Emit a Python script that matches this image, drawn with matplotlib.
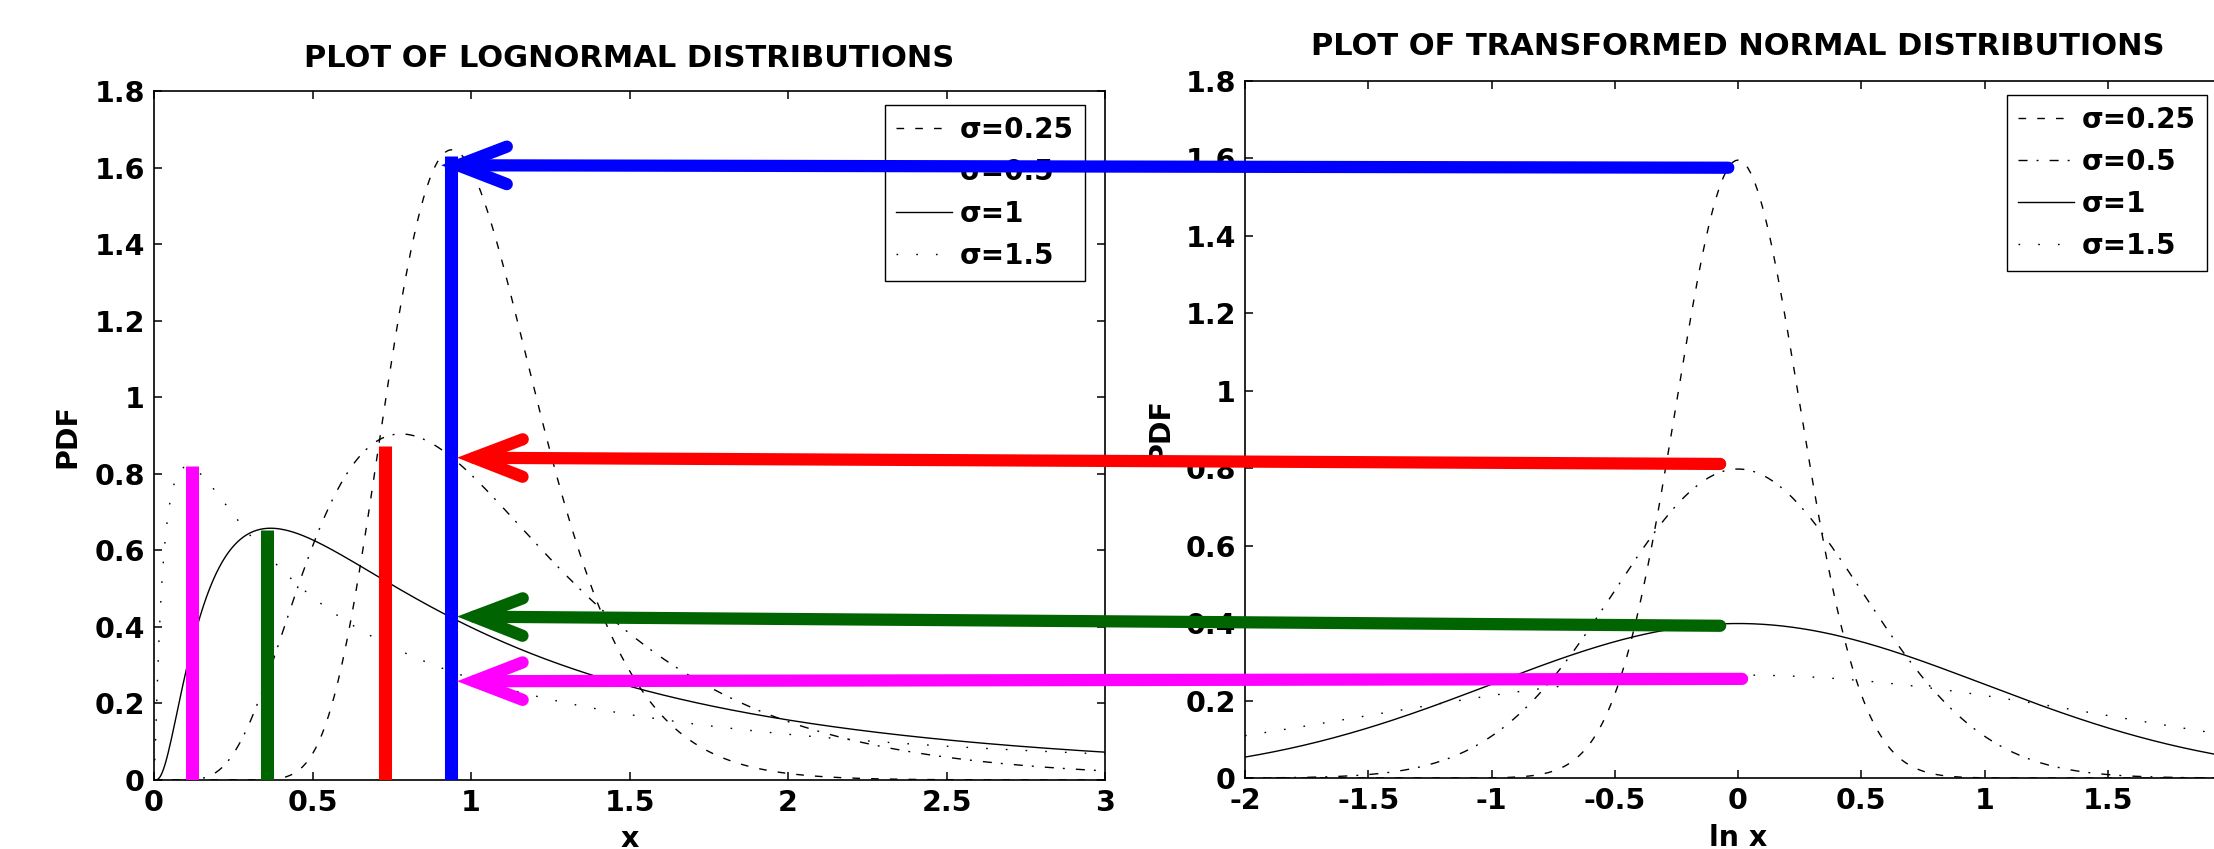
import numpy as np
import matplotlib
matplotlib.use("Agg")
import matplotlib.pyplot as plt
from matplotlib.patches import ConnectionPatch, ArrowStyle

# ---------------- data ----------------
sigmas = [0.25, 0.5, 1.0, 1.5]
legend_labels = ["σ=0.25", "σ=0.5", "σ=1", "σ=1.5"]

left_title = "PLOT OF LOGNORMAL DISTRIBUTIONS"
right_title = "PLOT OF TRANSFORMED NORMAL DISTRIBUTIONS"

left_xticks = [0, 0.5, 1, 1.5, 2, 2.5, 3]
left_xticklabels = ["0", "0.5", "1", "1.5", "2", "2.5", "3"]
right_xticks = [-2, -1.5, -1, -0.5, 0, 0.5, 1, 1.5, 2]
right_xticklabels = ["-2", "-1.5", "-1", "-0.5", "0", "0.5", "1", "1.5", ""]
yticks = [0, 0.2, 0.4, 0.6, 0.8, 1.0, 1.2, 1.4, 1.6, 1.8]
yticklabels = ["0", "0.2", "0.4", "0.6", "0.8", "1", "1.2", "1.4", "1.6", "1.8"]

# vertical marker bars in the left panel (x position, height)
bar_x = [0.12, 0.355, 0.73, 0.937]
bar_top = [0.82, 0.652, 0.873, 1.63]
bar_colors = ["#ff00ff", "#006400", "#ff0000", "#0000ff"]

# arrows from right panel (ln x, pdf) to left panel (x, pdf)
arrow_colors = ["#0000ff", "#ff0000", "#006400", "#ff00ff"]
arrow_start_lnx = [-0.015, -0.048, -0.048, 0.041]
arrow_start_pdf = [1.576, 0.811, 0.393, 0.256]
arrow_end_x = [0.906, 0.956, 0.956, 0.956]
arrow_end_pdf = [1.606, 0.842, 0.427, 0.258]

# ---------------- style ----------------
styles = [
    dict(linestyle=(0, (5.5, 8))),
    dict(linestyle=(0, (6.5, 6.5, 1.4, 8))),
    dict(linestyle="-"),
    dict(linestyle=(0, (1.2, 13))),
]

W, H = 2214, 849
fig = plt.figure(figsize=(W / 100, H / 100), dpi=100)
fig.patch.set_facecolor("white")


def frac(x0, y0, x1, y1):
    return [x0 / W, 1 - y1 / H, (x1 - x0) / W, (y1 - y0) / H]


ax1 = fig.add_axes(frac(154, 91, 1105, 780))
ax2 = fig.add_axes(frac(1245, 81, 2231, 778))

x_left = np.linspace(0, 3, 601)
x_right = np.linspace(-2, 2, 401)

for s, lab, st in zip(sigmas, legend_labels, styles):
    xs = np.where(x_left > 0, x_left, 1.0)
    pdf_ln = np.where(
        x_left > 0,
        np.exp(-(np.log(xs) ** 2) / (2 * s * s)) / (xs * s * np.sqrt(2 * np.pi)),
        0.0,
    )
    pdf_n = np.exp(-(x_right ** 2) / (2 * s * s)) / (s * np.sqrt(2 * np.pi))
    ax1.plot(x_left, pdf_ln, color="black", lw=1.0, label=lab, **st)
    ax2.plot(x_right, pdf_n, color="black", lw=1.0, label=lab, **st)

# vertical bars
for bx, bt, bc in zip(bar_x, bar_top, bar_colors):
    ax1.plot([bx, bx], [0, bt], color=bc, lw=9.4, solid_capstyle="butt", zorder=5)

tick_fs = 20.5
for ax, xt, xtl, xlim in [
    (ax1, left_xticks, left_xticklabels, (0, 3)),
    (ax2, right_xticks, right_xticklabels, (-2, 2)),
]:
    ax.set_xlim(*xlim)
    ax.set_ylim(0, 1.8)
    ax.set_xticks(xt)
    ax.set_xticklabels(xtl, fontsize=tick_fs, fontweight="bold")
    ax.set_yticks(yticks)
    ax.set_yticklabels(yticklabels, fontsize=tick_fs, fontweight="bold")
    ax.tick_params(direction="in", length=6, width=1.1, top=True, right=True, pad=6.5)
    for sp in ax.spines.values():
        sp.set_linewidth(1.2)
    ax.set_facecolor("white")

lab_fs = 20.5
ax1.set_ylabel("PDF", fontsize=lab_fs, fontweight="bold", va="center")
ax1.yaxis.set_label_coords((67 - 154) / 951, 0.5)
ax2.set_ylabel("PDF", fontsize=lab_fs, fontweight="bold", va="center")
ax2.yaxis.set_label_coords((1160 - 1245) / 986, 0.5)
ax1.set_xlabel("x", fontsize=lab_fs, fontweight="bold", va="baseline")
ax1.xaxis.set_label_coords(0.5, (780 - 847) / 689)
ax2.set_xlabel("ln x", fontsize=lab_fs, fontweight="bold", va="baseline")
ax2.xaxis.set_label_coords(0.5, (778 - 846) / 697)

ax1.set_title(left_title, fontsize=22, fontweight="bold", y=(780 - 67) / 689, pad=0, va="baseline")
ax2.set_title(right_title, fontsize=22, fontweight="bold", y=(778 - 55) / 697, pad=0, va="baseline")

leg_kw = dict(
    loc="upper right",
    prop={"weight": "bold", "size": 20},
    frameon=True,
    fancybox=False,
    framealpha=1,
    edgecolor="black",
    borderaxespad=0,
    borderpad=0.4,
    labelspacing=0.5,
    handlelength=2.0,
    handletextpad=0.3,
)
l1 = ax1.legend(bbox_to_anchor=((1085 - 154) / 951, (780 - 105) / 689), **leg_kw)
l2 = ax2.legend(bbox_to_anchor=((2207 - 1245) / 986, (778 - 95) / 697), **leg_kw)
for lg in (l1, l2):
    lg.get_frame().set_linewidth(1.0)

# arrows spanning both panels
head = ArrowStyle("->", head_length=35, head_width=13.5)
for c, sx, sy, ex, ey in zip(arrow_colors, arrow_start_lnx, arrow_start_pdf, arrow_end_x, arrow_end_pdf):
    con = ConnectionPatch(
        xyA=(sx, sy), coordsA=ax2.transData,
        xyB=(ex, ey), coordsB=ax1.transData,
        arrowstyle=head, mutation_scale=1,
        color=c, lw=8.8, capstyle="round", joinstyle="miter",
        shrinkA=4.3, shrinkB=0, zorder=10,
    )
    fig.add_artist(con)

fig.savefig("out.png", dpi=100, facecolor="white")
